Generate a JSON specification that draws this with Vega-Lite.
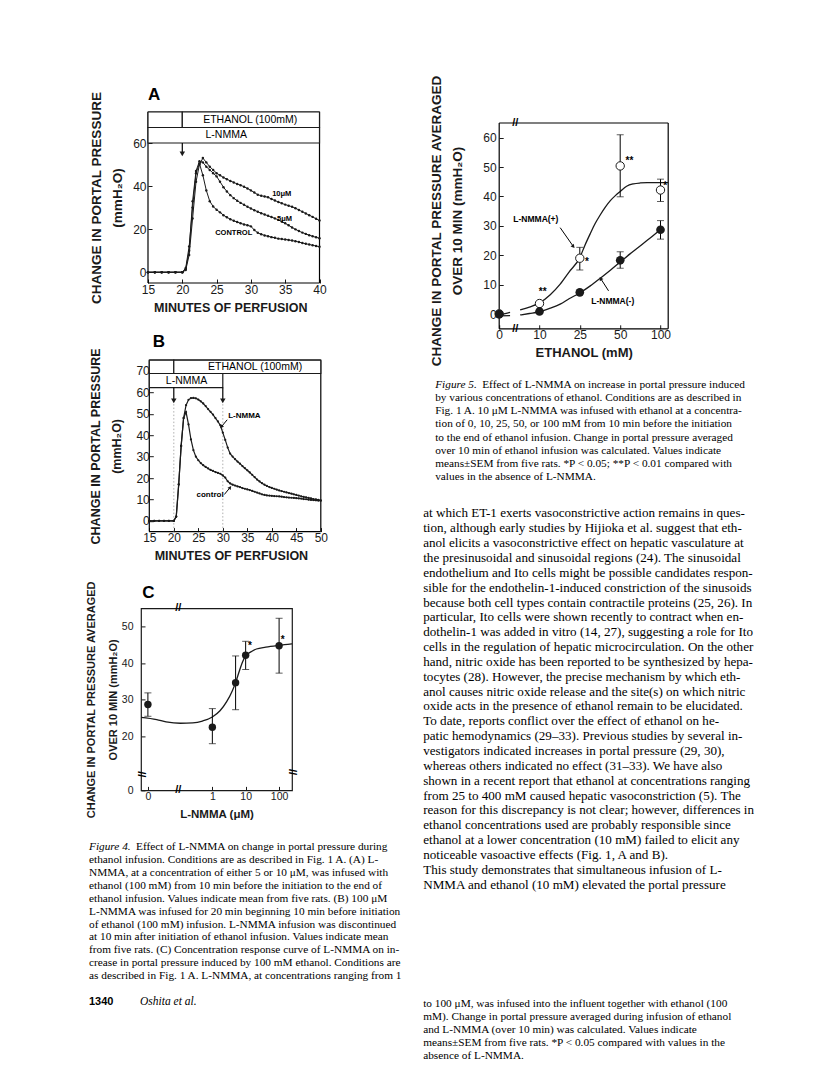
{
"$schema": "https://vega.github.io/schema/vega-lite/v6.json",
"autosize": {"type": "none"},
"padding": {"left": 141, "top": 112, "right": 675, "bottom": 964},
"background": "white",
"config": {
  "font": "Liberation Sans",
  "view": {"stroke": "#1a1a1a", "strokeWidth": 1.2},
  "mark": {"color": "#1a1a1a"},
  "axis": {"grid": false, "domain": false, "tickColor": "#1a1a1a", "tickSize": -4, "tickWidth": 1, "labelColor": "#1a1a1a", "titleColor": "#1a1a1a", "labelFont": "Liberation Sans", "titleFont": "Liberation Sans", "labelFontSize": 12, "titleFontSize": 13, "titleFontWeight": "bold", "labelPadding": 4, "titleLineHeight": 21, "labelFlush": false, "labelOverlap": false}
},
"datasets": {
  "aFrame": [{"t":15,"t2":15,"v":-5,"v2":74.4},{"t":40,"t2":40,"v":-5,"v2":74.4},{"t":15,"t2":40,"v":74.4,"v2":74.4},{"t":15,"t2":40,"v":-5,"v2":-5}],
  "aBox": [{"t":15,"t2":20,"v":67.2,"v2":74.4},{"t":20,"t2":40,"v":67.2,"v2":74.4},{"t":15,"t2":40,"v":60,"v2":67.2}],
  "aBoxLab": [{"t":29.9,"v":70.8,"label":"ETHANOL (100mM)"},{"t":26.4,"v":63.6,"label":"L-NMMA"}],
  "aArrow": [{"t":20,"v":60,"v2":55.5}],
  "aArrowHead": [{"t":20,"v":55}],
  "aPanel": [{"t":15,"v":82.3,"label":"A"}],
  "aLab": [{"t":34.5,"v":36.2,"label":"10μM"},{"t":34.9,"v":24.6,"label":"5μM"},{"t":27.5,"v":18.3,"label":"CONTROL"}],
  "aLines": [
    {"s":"control","t":15,"v":0},{"s":"control","t":16,"v":0},{"s":"control","t":17,"v":0},{"s":"control","t":18,"v":0},{"s":"control","t":19,"v":0},{"s":"control","t":20,"v":0},
    {"s":"control","t":20.5,"v":2},{"s":"control","t":21,"v":12},{"s":"control","t":21.5,"v":30},{"s":"control","t":22,"v":46},{"s":"control","t":22.5,"v":50.5},{"s":"control","t":23,"v":45},{"s":"control","t":23.5,"v":38},{"s":"control","t":24,"v":33},{"s":"control","t":24.5,"v":30.5},{"s":"control","t":25,"v":29},{"s":"control","t":25.5,"v":27.8},{"s":"control","t":26,"v":26.5},{"s":"control","t":26.5,"v":25.5},{"s":"control","t":27,"v":24.6},{"s":"control","t":27.5,"v":23.9},{"s":"control","t":28,"v":23.3},{"s":"control","t":28.5,"v":22.7},{"s":"control","t":29,"v":22.2},{"s":"control","t":29.5,"v":21.8},{"s":"control","t":30,"v":21.3},{"s":"control","t":30.5,"v":19.6},{"s":"control","t":31,"v":18.3},{"s":"control","t":31.5,"v":17.6},{"s":"control","t":32,"v":17.1},{"s":"control","t":32.5,"v":16.7},{"s":"control","t":33,"v":16.3},{"s":"control","t":33.5,"v":16},{"s":"control","t":34,"v":15.6},{"s":"control","t":34.5,"v":15.4},{"s":"control","t":35,"v":15.2},{"s":"control","t":35.5,"v":15},{"s":"control","t":36,"v":14.7},{"s":"control","t":36.5,"v":14.4},{"s":"control","t":37,"v":14},{"s":"control","t":37.5,"v":13.6},{"s":"control","t":38,"v":13.2},{"s":"control","t":38.5,"v":12.9},{"s":"control","t":39,"v":12.5},{"s":"control","t":39.5,"v":12.2},{"s":"control","t":40,"v":11.8},
    {"s":"5uM","t":15,"v":0},{"s":"5uM","t":16,"v":0},{"s":"5uM","t":17,"v":0},{"s":"5uM","t":18,"v":0},{"s":"5uM","t":19,"v":0},{"s":"5uM","t":20,"v":0},
    {"s":"5uM","t":20.5,"v":1.5},{"s":"5uM","t":21,"v":10},{"s":"5uM","t":21.5,"v":33},{"s":"5uM","t":22,"v":47},{"s":"5uM","t":22.5,"v":51.5},{"s":"5uM","t":23,"v":51},{"s":"5uM","t":23.5,"v":49},{"s":"5uM","t":24,"v":47.5},{"s":"5uM","t":24.5,"v":46},{"s":"5uM","t":25,"v":44.5},{"s":"5uM","t":25.5,"v":42},{"s":"5uM","t":26,"v":39.5},{"s":"5uM","t":26.5,"v":37.5},{"s":"5uM","t":27,"v":35.8},{"s":"5uM","t":27.5,"v":34.4},{"s":"5uM","t":28,"v":33.2},{"s":"5uM","t":28.5,"v":32.2},{"s":"5uM","t":29,"v":31.3},{"s":"5uM","t":29.5,"v":30.4},{"s":"5uM","t":30,"v":29.6},{"s":"5uM","t":30.5,"v":28.8},{"s":"5uM","t":31,"v":28.1},{"s":"5uM","t":31.5,"v":27.4},{"s":"5uM","t":32,"v":26.8},{"s":"5uM","t":32.5,"v":26.2},{"s":"5uM","t":33,"v":25.6},{"s":"5uM","t":33.5,"v":25},{"s":"5uM","t":34,"v":24.3},{"s":"5uM","t":34.5,"v":23.5},{"s":"5uM","t":35,"v":22.7},{"s":"5uM","t":35.5,"v":21.8},{"s":"5uM","t":36,"v":20.8},{"s":"5uM","t":36.5,"v":19.9},{"s":"5uM","t":37,"v":19.1},{"s":"5uM","t":37.5,"v":18.4},{"s":"5uM","t":38,"v":17.8},{"s":"5uM","t":38.5,"v":17.2},{"s":"5uM","t":39,"v":16.7},{"s":"5uM","t":39.5,"v":16.2},{"s":"5uM","t":40,"v":15.8},
    {"s":"10uM","t":15,"v":0},{"s":"10uM","t":16,"v":0},{"s":"10uM","t":17,"v":0},{"s":"10uM","t":18,"v":0},{"s":"10uM","t":19,"v":0},{"s":"10uM","t":20,"v":0},
    {"s":"10uM","t":20.5,"v":1},{"s":"10uM","t":21,"v":8},{"s":"10uM","t":21.5,"v":25},{"s":"10uM","t":22,"v":42},{"s":"10uM","t":22.5,"v":50},{"s":"10uM","t":23,"v":53},{"s":"10uM","t":23.5,"v":51},{"s":"10uM","t":24,"v":49},{"s":"10uM","t":24.5,"v":47.5},{"s":"10uM","t":25,"v":46},{"s":"10uM","t":25.5,"v":45},{"s":"10uM","t":26,"v":44},{"s":"10uM","t":26.5,"v":43.2},{"s":"10uM","t":27,"v":42.4},{"s":"10uM","t":27.5,"v":41.7},{"s":"10uM","t":28,"v":41},{"s":"10uM","t":28.5,"v":40.4},{"s":"10uM","t":29,"v":39.7},{"s":"10uM","t":29.5,"v":38.9},{"s":"10uM","t":30,"v":38},{"s":"10uM","t":30.5,"v":37},{"s":"10uM","t":31,"v":36},{"s":"10uM","t":31.5,"v":35.5},{"s":"10uM","t":32,"v":35.2},{"s":"10uM","t":32.5,"v":34.8},{"s":"10uM","t":33,"v":34},{"s":"10uM","t":33.5,"v":33.3},{"s":"10uM","t":34,"v":32.6},{"s":"10uM","t":34.5,"v":32},{"s":"10uM","t":35,"v":31.4},{"s":"10uM","t":35.5,"v":30.9},{"s":"10uM","t":36,"v":30.4},{"s":"10uM","t":36.5,"v":29.7},{"s":"10uM","t":37,"v":28.9},{"s":"10uM","t":37.5,"v":28.1},{"s":"10uM","t":38,"v":27.3},{"s":"10uM","t":38.5,"v":26.5},{"s":"10uM","t":39,"v":25.7},{"s":"10uM","t":39.5,"v":24.8},{"s":"10uM","t":40,"v":24}
  ],
  "bFrame": [{"t":15,"t2":15,"v":-5,"v2":75},{"t":50,"t2":50,"v":-5,"v2":75},{"t":15,"t2":50,"v":75,"v2":75},{"t":15,"t2":50,"v":-5,"v2":-5}],
  "bBox": [{"t":15,"t2":20,"v":68.8,"v2":75},{"t":20,"t2":50,"v":68.8,"v2":75},{"t":15,"t2":30,"v":62.2,"v2":68.8}],
  "bBoxLab": [{"t":36.6,"v":71.9,"label":"ETHANOL (100mM)"},{"t":22.6,"v":65.5,"label":"L-NMMA"}],
  "bArrow": [{"t":20,"v":62.2,"v2":56.5},{"t":30,"v":62.2,"v2":56.5}],
  "bArrowHead": [{"t":20,"v":56},{"t":30,"v":56}],
  "bDot": [{"t":20,"v":-5,"v2":55},{"t":30,"v":-5,"v2":55}],
  "bPanel": [{"t":15.7,"v":83.4,"label":"B"}],
  "bLab": [{"t":34.4,"v":48.8,"label":"L-NMMA"},{"t":27.4,"v":12,"label":"control"}],
  "bPtr": [{"t":30.9,"v":47.2,"t2":29.7,"v2":43.9},{"t":30.3,"v":12.3,"t2":31.5,"v2":15.6}],
  "bHead1": [{"t":29.7,"v":43.9}],
  "bHead2": [{"t":31.5,"v":15.6}],
  "bLines": [
    {"s":"control","t":15,"v":0},{"s":"control","t":16,"v":0},{"s":"control","t":17,"v":0},{"s":"control","t":18,"v":0},{"s":"control","t":19,"v":0},{"s":"control","t":20,"v":0},
    {"s":"control","t":20.5,"v":2},{"s":"control","t":21,"v":17},{"s":"control","t":21.5,"v":35},{"s":"control","t":22,"v":48},{"s":"control","t":22.5,"v":50.8},{"s":"control","t":23,"v":45},{"s":"control","t":23.5,"v":38},{"s":"control","t":24,"v":33},{"s":"control","t":24.5,"v":30},{"s":"control","t":25,"v":28.3},{"s":"control","t":25.5,"v":27},{"s":"control","t":26,"v":26},{"s":"control","t":26.5,"v":25.2},{"s":"control","t":27,"v":24.5},{"s":"control","t":27.5,"v":23.8},{"s":"control","t":28,"v":23.3},{"s":"control","t":28.5,"v":22.8},{"s":"control","t":29,"v":22.4},{"s":"control","t":29.5,"v":22},{"s":"control","t":30,"v":21.2},{"s":"control","t":30.5,"v":20.2},{"s":"control","t":31,"v":18.5},{"s":"control","t":31.5,"v":17.5},{"s":"control","t":32,"v":16.9},{"s":"control","t":32.5,"v":16.5},{"s":"control","t":33,"v":16.1},{"s":"control","t":33.5,"v":15.8},{"s":"control","t":34,"v":15.3},{"s":"control","t":34.5,"v":15},{"s":"control","t":35,"v":14.7},{"s":"control","t":35.5,"v":14.4},{"s":"control","t":36,"v":14},{"s":"control","t":36.5,"v":13.6},{"s":"control","t":37,"v":13.2},{"s":"control","t":37.5,"v":12.8},{"s":"control","t":38,"v":12.4},{"s":"control","t":38.5,"v":12.1},{"s":"control","t":39,"v":11.9},{"s":"control","t":39.5,"v":11.8},{"s":"control","t":40,"v":11.7},{"s":"control","t":40.5,"v":11.6},{"s":"control","t":41,"v":11.5},{"s":"control","t":41.5,"v":11.4},{"s":"control","t":42,"v":11.3},{"s":"control","t":42.5,"v":11.1},{"s":"control","t":43,"v":11},{"s":"control","t":43.5,"v":10.9},{"s":"control","t":44,"v":10.8},{"s":"control","t":44.5,"v":10.7},{"s":"control","t":45,"v":10.6},{"s":"control","t":45.5,"v":10.5},{"s":"control","t":46,"v":10.4},{"s":"control","t":46.5,"v":10.2},{"s":"control","t":47,"v":10.1},{"s":"control","t":47.5,"v":9.9},{"s":"control","t":48,"v":9.8},{"s":"control","t":48.5,"v":9.7},{"s":"control","t":49,"v":9.6},{"s":"control","t":49.5,"v":9.5},{"s":"control","t":50,"v":9.4},
    {"s":"lnmma","t":15,"v":0},{"s":"lnmma","t":16,"v":0},{"s":"lnmma","t":17,"v":0},{"s":"lnmma","t":18,"v":0},{"s":"lnmma","t":19,"v":0},{"s":"lnmma","t":20,"v":0},
    {"s":"lnmma","t":20.5,"v":2},{"s":"lnmma","t":21,"v":17},{"s":"lnmma","t":21.5,"v":35},{"s":"lnmma","t":22,"v":48},{"s":"lnmma","t":22.5,"v":54},{"s":"lnmma","t":23,"v":56.5},{"s":"lnmma","t":23.5,"v":57.3},{"s":"lnmma","t":24,"v":57.4},{"s":"lnmma","t":24.5,"v":57.2},{"s":"lnmma","t":25,"v":56.6},{"s":"lnmma","t":25.5,"v":55.8},{"s":"lnmma","t":26,"v":54.8},{"s":"lnmma","t":26.5,"v":53.6},{"s":"lnmma","t":27,"v":52.2},{"s":"lnmma","t":27.5,"v":50.9},{"s":"lnmma","t":28,"v":49.6},{"s":"lnmma","t":28.5,"v":48},{"s":"lnmma","t":29,"v":46.4},{"s":"lnmma","t":29.5,"v":44.6},{"s":"lnmma","t":30,"v":41.2},{"s":"lnmma","t":30.5,"v":37.8},{"s":"lnmma","t":31,"v":34.2},{"s":"lnmma","t":31.5,"v":31.4},{"s":"lnmma","t":32,"v":30},{"s":"lnmma","t":32.5,"v":28.8},{"s":"lnmma","t":33,"v":27.7},{"s":"lnmma","t":33.5,"v":26.7},{"s":"lnmma","t":34,"v":25.6},{"s":"lnmma","t":34.5,"v":24.6},{"s":"lnmma","t":35,"v":23.6},{"s":"lnmma","t":35.5,"v":22.6},{"s":"lnmma","t":36,"v":21.5},{"s":"lnmma","t":36.5,"v":20.4},{"s":"lnmma","t":37,"v":19.3},{"s":"lnmma","t":37.5,"v":18.4},{"s":"lnmma","t":38,"v":17.6},{"s":"lnmma","t":38.5,"v":16.9},{"s":"lnmma","t":39,"v":16.3},{"s":"lnmma","t":39.5,"v":15.8},{"s":"lnmma","t":40,"v":15.4},{"s":"lnmma","t":40.5,"v":15},{"s":"lnmma","t":41,"v":14.6},{"s":"lnmma","t":41.5,"v":14.2},{"s":"lnmma","t":42,"v":13.9},{"s":"lnmma","t":42.5,"v":13.6},{"s":"lnmma","t":43,"v":13.3},{"s":"lnmma","t":43.5,"v":13},{"s":"lnmma","t":44,"v":12.7},{"s":"lnmma","t":44.5,"v":12.4},{"s":"lnmma","t":45,"v":12.1},{"s":"lnmma","t":45.5,"v":11.8},{"s":"lnmma","t":46,"v":11.5},{"s":"lnmma","t":46.5,"v":11.2},{"s":"lnmma","t":47,"v":11},{"s":"lnmma","t":47.5,"v":10.7},{"s":"lnmma","t":48,"v":10.5},{"s":"lnmma","t":48.5,"v":10.2},{"s":"lnmma","t":49,"v":10},{"s":"lnmma","t":49.5,"v":9.8},{"s":"lnmma","t":50,"v":9.6}
  ],
  "cPts": [{"c":0,"m":28.7,"lo":25.5,"hi":31.9},{"c":1,"m":22.5,"lo":17.3,"hi":27.6},{"c":5,"m":34.7,"lo":27.3,"hi":42},{"c":10,"m":42.2,"lo":38.3,"hi":46},{"c":100,"m":44.8,"lo":37.3,"hi":52.3}],
  "cCurve": [{"c":-0.0073,"m":25.2},{"c":0.01,"m":24.6},{"c":0.03,"m":24.0},{"c":0.1,"m":23.6},{"c":0.25,"m":23.7},{"c":0.5,"m":24.2},{"c":1,"m":25.3},{"c":1.7,"m":27},{"c":2.7,"m":29.5},{"c":4,"m":32.5},{"c":5,"m":34.7},{"c":6.7,"m":38.3},{"c":8,"m":40.3},{"c":10,"m":42},{"c":15,"m":43.2},{"c":21,"m":43.9},{"c":40,"m":44.4},{"c":100,"m":44.9},{"c":243,"m":45.3}],
  "cStar": [{"c":13.5,"m":44.6,"label":"*"},{"c":128,"m":46.4,"label":"*"}],
  "cBreak": [{"c":0.085,"m":55,"label":"//"},{"c":0.085,"m":0,"label":"//"}],
  "cBreakSide": [{"c":-0.0073,"m":6,"label":"//"},{"c":243,"m":6.8,"label":"//"}],
  "cPanel": [{"c":-0.0056,"m":59.1,"label":"C"}],
  "fFrame": [{"e":0,"e2":0,"m":-5,"m2":65},{"e":110,"e2":110,"m":-5,"m2":65},{"e":0,"e2":110,"m":65,"m2":65},{"e":0,"e2":110,"m":-5,"m2":-5}],
  "fPts": [{"e":0,"g":"plus","m":0.1},{"e":10,"g":"plus","m":3.6},{"e":25,"g":"plus","m":19,"lo":15,"hi":22.7},{"e":50,"g":"plus","m":50.4,"lo":39.9,"hi":61},{"e":100,"g":"plus","m":42.2,"lo":38.3,"hi":45.9},{"e":0,"g":"minus","m":0},{"e":10,"g":"minus","m":0.9},{"e":25,"g":"minus","m":7.4},{"e":50,"g":"minus","m":18.3,"lo":15.6,"hi":21.2},{"e":100,"g":"minus","m":28.7,"lo":25.5,"hi":31.8}],
  "fCurve": [
    {"g":"plus","seg":"a","e":0,"m":-0.3},{"g":"plus","seg":"a","e":1.2,"m":0.1},{"g":"plus","seg":"a","e":2.7,"m":0.6},
    {"g":"plus","seg":"b","e":5.2,"m":1.4},{"g":"plus","seg":"b","e":7.5,"m":2.4},{"g":"plus","seg":"b","e":10,"m":3.8},{"g":"plus","seg":"b","e":14,"m":6.6},{"g":"plus","seg":"b","e":17.7,"m":10.2},{"g":"plus","seg":"b","e":21,"m":14.3},{"g":"plus","seg":"b","e":25,"m":19.2},{"g":"plus","seg":"b","e":28,"m":23.2},{"g":"plus","seg":"b","e":31.5,"m":27.4},{"g":"plus","seg":"b","e":34.5,"m":30.8},{"g":"plus","seg":"b","e":37.7,"m":33.8},{"g":"plus","seg":"b","e":40.8,"m":36.4},{"g":"plus","seg":"b","e":43.9,"m":38.6},{"g":"plus","seg":"b","e":47,"m":40.3},{"g":"plus","seg":"b","e":50,"m":41.7},{"g":"plus","seg":"b","e":58,"m":43.5},{"g":"plus","seg":"b","e":66.5,"m":44.3},{"g":"plus","seg":"b","e":75,"m":44.6},{"g":"plus","seg":"b","e":83.5,"m":44.7},{"g":"plus","seg":"b","e":100,"m":44.7},{"g":"plus","seg":"b","e":110,"m":44.7},
    {"g":"minus","seg":"a","e":0,"m":-0.6},{"g":"minus","seg":"a","e":2.7,"m":-0.5},
    {"g":"minus","seg":"b","e":5.2,"m":-0.3},{"g":"minus","seg":"b","e":7.5,"m":0.2},{"g":"minus","seg":"b","e":10,"m":0.8},{"g":"minus","seg":"b","e":14,"m":2},{"g":"minus","seg":"b","e":17.7,"m":3.4},{"g":"minus","seg":"b","e":21,"m":5.2},{"g":"minus","seg":"b","e":25,"m":7.2},{"g":"minus","seg":"b","e":31.5,"m":9.6},{"g":"minus","seg":"b","e":37.7,"m":12.2},{"g":"minus","seg":"b","e":43.9,"m":14.9},{"g":"minus","seg":"b","e":50,"m":17.7},{"g":"minus","seg":"b","e":61.8,"m":20.4},{"g":"minus","seg":"b","e":73.5,"m":22.9},{"g":"minus","seg":"b","e":86.8,"m":25.8},{"g":"minus","seg":"b","e":100,"m":28.8}
  ],
  "fStar": [{"e":11.2,"m":7.5,"label":"**"},{"e":29.5,"m":17.6,"label":"*"},{"e":61.5,"m":52,"label":"**"},{"e":106,"m":43.6,"label":"*"}],
  "fLab": [{"e":9.1,"m":32.3,"label":"L-NMMA(+)"},{"e":45.4,"m":4.3,"label":"L-NMMA(-)"}],
  "fPtr": [{"e":17.7,"m":29.4,"e2":22.6,"m2":23},{"e":42.8,"m":7.9,"e2":37.9,"m2":12.1}],
  "fHead1": [{"e":22.6,"m":23}],
  "fHead2": [{"e":37.9,"m":12.1}],
  "fBreak": [{"e":4,"m":65,"label":"//"},{"e":4,"m":-5,"label":"//"}],
  "cap4": [
    {"line":1,"kind":"lead","text":"Figure 4."},
    {"line":1,"kind":"lead2","text":"Effect of L-NMMA on change in portal pressure during"},
    {"line":2,"kind":"body","text":"ethanol infusion. Conditions are as described in Fig. 1 A. (A) L-"},
    {"line":3,"kind":"body","text":"NMMA, at a concentration of either 5 or 10 μM, was infused with"},
    {"line":4,"kind":"body","text":"ethanol (100 mM) from 10 min before the initiation to the end of"},
    {"line":5,"kind":"body","text":"ethanol infusion. Values indicate mean from five rats. (B) 100 μM"},
    {"line":6,"kind":"body","text":"L-NMMA was infused for 20 min beginning 10 min before initiation"},
    {"line":7,"kind":"body","text":"of ethanol (100 mM) infusion. L-NMMA infusion was discontinued"},
    {"line":8,"kind":"body","text":"at 10 min after initiation of ethanol infusion. Values indicate mean"},
    {"line":9,"kind":"body","text":"from five rats. (C) Concentration response curve of L-NMMA on in-"},
    {"line":10,"kind":"body","text":"crease in portal pressure induced by 100 mM ethanol. Conditions are"},
    {"line":11,"kind":"body","text":"as described in Fig. 1 A. L-NMMA, at concentrations ranging from 1"},
    {"line":13,"kind":"page","text":"1340"},
    {"line":13,"kind":"run","text":"Oshita et al."}
  ],
  "cap5": [
    {"line":1,"kind":"lead","text":"Figure 5."},
    {"line":1,"kind":"lead2","text":"Effect of L-NMMA on increase in portal pressure induced"},
    {"line":2,"kind":"body","text":"by various concentrations of ethanol. Conditions are as described in"},
    {"line":3,"kind":"body","text":"Fig. 1 A. 10 μM L-NMMA was infused with ethanol at a concentra-"},
    {"line":4,"kind":"body","text":"tion of 0, 10, 25, 50, or 100 mM from 10 min before the initiation"},
    {"line":5,"kind":"body","text":"to the end of ethanol infusion. Change in portal pressure averaged"},
    {"line":6,"kind":"body","text":"over 10 min of ethanol infusion was calculated. Values indicate"},
    {"line":7,"kind":"body","text":"means±SEM from five rats. *P < 0.05; **P < 0.01 compared with"},
    {"line":8,"kind":"body","text":"values in the absence of L-NMMA."}
  ],
  "body": [
    {"line":1,"text":"at which ET-1 exerts vasoconstrictive action remains in ques-"},
    {"line":2,"text":"tion, although early studies by Hijioka et al. suggest that eth-"},
    {"line":3,"text":"anol elicits a vasoconstrictive effect on hepatic vasculature at"},
    {"line":4,"text":"the presinusoidal and sinusoidal regions (24). The sinusoidal"},
    {"line":5,"text":"endothelium and Ito cells might be possible candidates respon-"},
    {"line":6,"text":"sible for the endothelin-1-induced constriction of the sinusoids"},
    {"line":7,"text":"because both cell types contain contractile proteins (25, 26). In"},
    {"line":8,"text":"particular, Ito cells were shown recently to contract when en-"},
    {"line":9,"text":"dothelin-1 was added in vitro (14, 27), suggesting a role for Ito"},
    {"line":10,"text":"cells in the regulation of hepatic microcirculation. On the other"},
    {"line":11,"text":"hand, nitric oxide has been reported to be synthesized by hepa-"},
    {"line":12,"text":"tocytes (28). However, the precise mechanism by which eth-"},
    {"line":13,"text":"anol causes nitric oxide release and the site(s) on which nitric"},
    {"line":14,"text":"oxide acts in the presence of ethanol remain to be elucidated."},
    {"line":15,"text":"\u2003To date, reports conflict over the effect of ethanol on he-"},
    {"line":16,"text":"patic hemodynamics (29–33). Previous studies by several in-"},
    {"line":17,"text":"vestigators indicated increases in portal pressure (29, 30),"},
    {"line":18,"text":"whereas others indicated no effect (31–33). We have also"},
    {"line":19,"text":"shown in a recent report that ethanol at concentrations ranging"},
    {"line":20,"text":"from 25 to 400 mM caused hepatic vasoconstriction (5). The"},
    {"line":21,"text":"reason for this discrepancy is not clear; however, differences in"},
    {"line":22,"text":"ethanol concentrations used are probably responsible since"},
    {"line":23,"text":"ethanol at a lower concentration (10 mM) failed to elicit any"},
    {"line":24,"text":"noticeable vasoactive effects (Fig. 1, A and B)."},
    {"line":25,"text":"\u2003This study demonstrates that simultaneous infusion of L-"},
    {"line":26,"text":"NMMA and ethanol (10 mM) elevated the portal pressure"}
  ],
  "foot": [
    {"line":1,"text":"to 100 μM, was infused into the influent together with ethanol (100"},
    {"line":2,"text":"mM). Change in portal pressure averaged during infusion of ethanol"},
    {"line":3,"text":"and L-NMMA (over 10 min) was calculated. Values indicate"},
    {"line":4,"text":"means±SEM from five rats. *P < 0.05 compared with values in the"},
    {"line":5,"text":"absence of L-NMMA."}
  ]
},
"columns": 2,
"align": "each",
"bounds": "flush",
"spacing": {"row": 31.2, "column": 178.2},
"concat": [
 {
  "width": 178.5, "height": 171,
  "view": {"stroke": null},
  "encoding": {
    "x": {"field": "t", "type": "quantitative", "scale": {"domain": [13.98, 40], "nice": false, "zero": false}, "axis": {"values": [15,20,25,30,35,40], "title": "MINUTES OF PERFUSION", "titleFontSize": 12.5, "labelPadding": 5, "titlePadding": 6}},
    "y": {"field": "v", "type": "quantitative", "scale": {"domain": [-5, 74.4], "nice": false, "zero": false}, "axis": {"values": [0,20,40,60], "offset": -7, "title": ["CHANGE IN PORTAL PRESSURE", "(mmH₂O)"], "titleFontSize": 13.5, "labelPadding": 6, "titlePadding": 8}}
  },
  "layer": [
    {"data": {"name": "aFrame"}, "mark": {"type": "rule", "strokeWidth": 1.2}, "encoding": {"x2": {"field": "t2"}, "y2": {"field": "v2"}}},
    {"data": {"name": "aBox"}, "mark": {"type": "rect", "fill": "white", "stroke": "#1a1a1a", "strokeWidth": 1.2}, "encoding": {"x2": {"field": "t2"}, "y2": {"field": "v2"}}},
    {"data": {"name": "aBoxLab"}, "mark": {"type": "text", "fontSize": 10.5, "baseline": "middle"}, "encoding": {"text": {"field": "label"}}},
    {"data": {"name": "aArrow"}, "mark": {"type": "rule", "strokeWidth": 1.2}, "encoding": {"y2": {"field": "v2"}}},
    {"data": {"name": "aArrowHead"}, "mark": {"type": "point", "shape": "triangle-down", "filled": true, "size": 30, "opacity": 1}},
    {"data": {"name": "aLines"}, "mark": {"type": "line", "strokeWidth": 1, "point": {"filled": true, "size": 6, "opacity": 1}}, "encoding": {"detail": {"field": "s"}}},
    {"data": {"name": "aLab"}, "mark": {"type": "text", "fontSize": 7.5, "fontWeight": "bold", "baseline": "middle"}, "encoding": {"text": {"field": "label"}}},
    {"data": {"name": "aPanel"}, "mark": {"type": "text", "fontSize": 17, "fontWeight": "bold", "align": "left", "baseline": "middle"}, "encoding": {"text": {"field": "label"}}}
  ]
 },
 {
  "width": 169, "height": 216.8,
  "view": {"stroke": null},
  "encoding": {
    "x": {"field": "e", "type": "quantitative", "scale": {"domain": [0, 10, 25, 50, 100, 110], "range": [0, 40.3, 80.6, 121, 161.3, 169], "nice": false, "zero": false}, "axis": {"values": [0,10,25,50,100], "title": "ETHANOL (mM)", "titleFontSize": 13, "labelPadding": 5, "titlePadding": 6}},
    "y": {"field": "m", "type": "quantitative", "scale": {"domain": [-5, 68.74], "nice": false, "zero": false}, "axis": {"values": [0,10,20,30,40,50,60], "title": ["CHANGE IN PORTAL PRESSURE AVERAGED", "OVER 10 MIN (mmH₂O)"], "titleFontSize": 13.5, "labelPadding": 7, "titlePadding": 18}}
  },
  "layer": [
    {"data": {"name": "fFrame"}, "mark": {"type": "rule", "strokeWidth": 1.2}, "encoding": {"x2": {"field": "e2"}, "y2": {"field": "m2"}}},
    {"data": {"name": "fCurve"}, "mark": {"type": "line", "strokeWidth": 1.3, "interpolate": "monotone"}, "encoding": {"detail": [{"field": "g"}, {"field": "seg"}]}},
    {"data": {"name": "fPts"}, "transform": [{"filter": "isValid(datum.lo)"}], "mark": {"type": "rule", "strokeWidth": 1}, "encoding": {"y": {"field": "lo", "type": "quantitative", "scale": {"domain": [-5, 68.74], "nice": false, "zero": false}}, "y2": {"field": "hi"}}},
    {"data": {"name": "fPts"}, "transform": [{"filter": "isValid(datum.lo)"}], "mark": {"type": "tick", "orient": "horizontal", "size": 7, "thickness": 1}, "encoding": {"y": {"field": "lo", "type": "quantitative", "scale": {"domain": [-5, 68.74], "nice": false, "zero": false}}}},
    {"data": {"name": "fPts"}, "transform": [{"filter": "isValid(datum.lo)"}], "mark": {"type": "tick", "orient": "horizontal", "size": 7, "thickness": 1}, "encoding": {"y": {"field": "hi", "type": "quantitative", "scale": {"domain": [-5, 68.74], "nice": false, "zero": false}}}},
    {"data": {"name": "fPts"}, "transform": [{"filter": "datum.g == 'plus'"}], "mark": {"type": "point", "filled": true, "fill": "white", "stroke": "#1a1a1a", "strokeWidth": 1, "size": 70, "opacity": 1}},
    {"data": {"name": "fPts"}, "transform": [{"filter": "datum.g == 'minus'"}], "mark": {"type": "point", "filled": true, "size": 75, "opacity": 1}},
    {"data": {"name": "fStar"}, "mark": {"type": "text", "fontSize": 10, "fontWeight": "bold", "baseline": "middle"}, "encoding": {"text": {"field": "label"}}},
    {"data": {"name": "fLab"}, "mark": {"type": "text", "fontSize": 8.5, "fontWeight": "bold", "baseline": "middle"}, "encoding": {"text": {"field": "label"}}},
    {"data": {"name": "fPtr"}, "mark": {"type": "rule", "strokeWidth": 1}, "encoding": {"x2": {"field": "e2"}, "y2": {"field": "m2"}}},
    {"data": {"name": "fHead1"}, "mark": {"type": "point", "shape": "triangle-up", "angle": 140, "filled": true, "size": 18, "opacity": 1}},
    {"data": {"name": "fHead2"}, "mark": {"type": "point", "shape": "triangle-up", "angle": 328, "filled": true, "size": 18, "opacity": 1}},
    {"data": {"name": "fBreak"}, "mark": {"type": "text", "fontSize": 11, "fontWeight": "bold", "baseline": "middle"}, "encoding": {"text": {"field": "label"}}}
  ]
 },
 {
  "width": 179.8, "height": 171.4,
  "view": {"stroke": null},
  "encoding": {
    "x": {"field": "t", "type": "quantitative", "scale": {"domain": [13.306, 50], "nice": false, "zero": false}, "axis": {"values": [15,20,25,30,35,40,45,50], "title": "MINUTES OF PERFUSION", "titleFontSize": 12.5, "labelPadding": 5, "titlePadding": 6}},
    "y": {"field": "v", "type": "quantitative", "scale": {"domain": [-5, 75], "nice": false, "zero": false}, "axis": {"values": [0,10,20,30,40,50,60,70], "offset": -8.3, "title": ["CHANGE IN PORTAL PRESSURE", "(mmH₂O)"], "titleFontSize": 12.5, "labelPadding": 4, "titlePadding": 12}}
  },
  "layer": [
    {"data": {"name": "bFrame"}, "mark": {"type": "rule", "strokeWidth": 1.2}, "encoding": {"x2": {"field": "t2"}, "y2": {"field": "v2"}}},
    {"data": {"name": "bDot"}, "mark": {"type": "rule", "strokeWidth": 0.8, "color": "#9a9a9a", "strokeDash": [1.5, 2]}, "encoding": {"y2": {"field": "v2"}}},
    {"data": {"name": "bBox"}, "mark": {"type": "rect", "fill": "white", "stroke": "#1a1a1a", "strokeWidth": 1.2}, "encoding": {"x2": {"field": "t2"}, "y2": {"field": "v2"}}},
    {"data": {"name": "bBoxLab"}, "mark": {"type": "text", "fontSize": 10.5, "baseline": "middle"}, "encoding": {"text": {"field": "label"}}},
    {"data": {"name": "bArrow"}, "mark": {"type": "rule", "strokeWidth": 1.2}, "encoding": {"y2": {"field": "v2"}}},
    {"data": {"name": "bArrowHead"}, "mark": {"type": "point", "shape": "triangle-down", "filled": true, "size": 30, "opacity": 1}},
    {"data": {"name": "bLines"}, "mark": {"type": "line", "strokeWidth": 1.2, "point": {"filled": true, "size": 5, "opacity": 1}}, "encoding": {"detail": {"field": "s"}}},
    {"data": {"name": "bLab"}, "mark": {"type": "text", "fontSize": 8, "fontWeight": "bold", "baseline": "middle"}, "encoding": {"text": {"field": "label"}}},
    {"data": {"name": "bPtr"}, "mark": {"type": "rule", "strokeWidth": 1}, "encoding": {"x2": {"field": "t2"}, "y2": {"field": "v2"}}},
    {"data": {"name": "bHead1"}, "mark": {"type": "point", "shape": "triangle-up", "angle": 219, "filled": true, "size": 16, "opacity": 1}},
    {"data": {"name": "bHead2"}, "mark": {"type": "point", "shape": "triangle-up", "angle": 37, "filled": true, "size": 16, "opacity": 1}},
    {"data": {"name": "bPanel"}, "mark": {"type": "text", "fontSize": 17, "fontWeight": "bold", "align": "left", "baseline": "middle"}, "encoding": {"text": {"field": "label"}}}
  ]
 },
 {
  "width": 100, "height": 216.8,
  "view": {"stroke": null},
  "data": {"name": "cap5"},
  "encoding": {
    "y": {"field": "line", "type": "quantitative", "scale": {"domain": [-0.908, 15.642], "reverse": true, "nice": false, "zero": false}, "axis": null},
    "x": {"value": 0},
    "text": {"field": "text"}
  },
  "layer": [
    {"transform": [{"filter": "datum.kind == 'lead'"}], "mark": {"type": "text", "align": "left", "baseline": "middle", "font": "Liberation Serif", "fontStyle": "italic", "fontSize": 11.3, "dx": -64}},
    {"transform": [{"filter": "datum.kind == 'lead2'"}], "mark": {"type": "text", "align": "left", "baseline": "middle", "font": "Liberation Serif", "fontSize": 11.3, "dx": -17}},
    {"transform": [{"filter": "datum.kind == 'body'"}], "mark": {"type": "text", "align": "left", "baseline": "middle", "font": "Liberation Serif", "fontSize": 11.3, "dx": -64}}
  ]
 },
 {
  "width": 151, "height": 182,
  "encoding": {
    "x": {"field": "c", "type": "quantitative", "scale": {"type": "symlog", "constant": 0.012, "domain": [-0.0073, 243], "nice": false, "zero": false}, "axis": {"values": [0,1,10,100], "format": "d", "title": "L-NMMA (μM)", "titleFontSize": 11.5, "labelFontSize": 10.5, "labelPadding": 5, "titlePadding": 7}},
    "y": {"field": "m", "type": "quantitative", "scale": {"domain": [0, 20, 55], "range": [182, 128, 0], "nice": false, "zero": false}, "axis": {"values": [0,20,30,40,50], "title": ["CHANGE IN PORTAL PRESSURE AVERAGED", "OVER 10 MIN (mmH₂O)"], "titleFontSize": 11, "labelFontSize": 10.5, "labelPadding": 12, "titlePadding": 3, "titleLineHeight": 22}}
  },
  "layer": [
    {"data": {"name": "cCurve"}, "mark": {"type": "line", "strokeWidth": 1.3, "interpolate": "monotone"}},
    {"data": {"name": "cPts"}, "mark": {"type": "rule", "strokeWidth": 1}, "encoding": {"y": {"field": "lo", "type": "quantitative", "scale": {"domain": [0, 20, 55], "range": [182, 128, 0], "nice": false, "zero": false}}, "y2": {"field": "hi"}}},
    {"data": {"name": "cPts"}, "mark": {"type": "tick", "orient": "horizontal", "size": 7, "thickness": 1}, "encoding": {"y": {"field": "lo", "type": "quantitative", "scale": {"domain": [0, 20, 55], "range": [182, 128, 0], "nice": false, "zero": false}}}},
    {"data": {"name": "cPts"}, "mark": {"type": "tick", "orient": "horizontal", "size": 7, "thickness": 1}, "encoding": {"y": {"field": "hi", "type": "quantitative", "scale": {"domain": [0, 20, 55], "range": [182, 128, 0], "nice": false, "zero": false}}}},
    {"data": {"name": "cPts"}, "mark": {"type": "point", "filled": true, "size": 55, "opacity": 1}},
    {"data": {"name": "cStar"}, "mark": {"type": "text", "fontSize": 10, "fontWeight": "bold", "baseline": "middle"}, "encoding": {"text": {"field": "label"}}},
    {"data": {"name": "cBreak"}, "mark": {"type": "text", "fontSize": 11, "fontWeight": "bold", "baseline": "middle"}, "encoding": {"text": {"field": "label"}}},
    {"data": {"name": "cBreakSide"}, "mark": {"type": "text", "fontSize": 11, "fontWeight": "bold", "baseline": "middle", "angle": 90}, "encoding": {"text": {"field": "label"}}},
    {"data": {"name": "cPanel"}, "mark": {"type": "text", "fontSize": 17, "fontWeight": "bold", "align": "left", "baseline": "middle"}, "encoding": {"text": {"field": "label"}}}
  ]
 },
 {
  "width": 100, "height": 182,
  "view": {"stroke": null},
  "data": {"name": "body"},
  "mark": {"type": "text", "align": "left", "baseline": "middle", "font": "Liberation Serif", "fontSize": 13.1, "dx": -76},
  "encoding": {
    "y": {"field": "line", "type": "quantitative", "scale": {"domain": [7.397, 19.653], "reverse": true, "nice": false, "zero": false}, "axis": null},
    "x": {"value": 0},
    "text": {"field": "text"}
  }
 },
 {
  "width": 100, "height": 182,
  "view": {"stroke": null},
  "data": {"name": "cap4"},
  "encoding": {
    "y": {"field": "line", "type": "quantitative", "scale": {"domain": [-1.008, 13.155], "reverse": true, "nice": false, "zero": false}, "axis": null},
    "x": {"value": 0},
    "text": {"field": "text"}
  },
  "layer": [
    {"transform": [{"filter": "datum.kind == 'lead'"}], "mark": {"type": "text", "align": "left", "baseline": "middle", "font": "Liberation Serif", "fontStyle": "italic", "fontSize": 11.3, "dx": -52}},
    {"transform": [{"filter": "datum.kind == 'lead2'"}], "mark": {"type": "text", "align": "left", "baseline": "middle", "font": "Liberation Serif", "fontSize": 11.3, "dx": -5}},
    {"transform": [{"filter": "datum.kind == 'body'"}], "mark": {"type": "text", "align": "left", "baseline": "middle", "font": "Liberation Serif", "fontSize": 11.3, "dx": -52}},
    {"transform": [{"filter": "datum.kind == 'page'"}], "mark": {"type": "text", "align": "left", "baseline": "middle", "font": "Liberation Sans", "fontWeight": "bold", "fontSize": 11, "dx": -52}},
    {"transform": [{"filter": "datum.kind == 'run'"}], "mark": {"type": "text", "align": "left", "baseline": "middle", "font": "Liberation Serif", "fontStyle": "italic", "fontSize": 11.5, "dx": -1}}
  ]
 },
 {
  "width": 100, "height": 182,
  "view": {"stroke": null},
  "data": {"name": "foot"},
  "mark": {"type": "text", "align": "left", "baseline": "middle", "font": "Liberation Serif", "fontSize": 11.3, "dx": -76},
  "encoding": {
    "y": {"field": "line", "type": "quantitative", "scale": {"domain": [-13.062, 0.938], "reverse": true, "nice": false, "zero": false}, "axis": null},
    "x": {"value": 0},
    "text": {"field": "text"}
  }
 }
]
}
